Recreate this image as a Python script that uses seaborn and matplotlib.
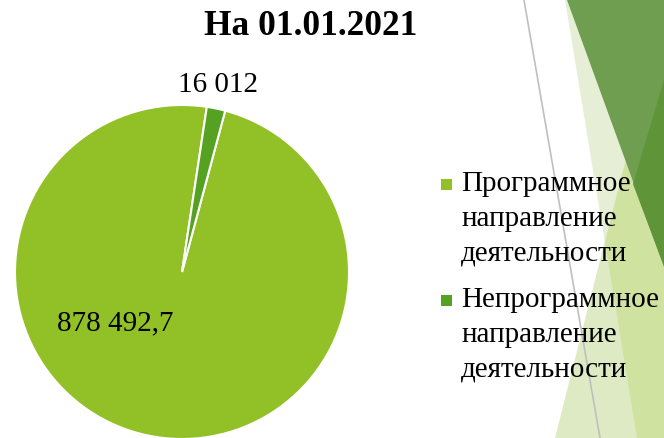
import matplotlib
matplotlib.use("Agg")
import matplotlib.pyplot as plt
import seaborn as sns
from matplotlib.patches import Polygon, Rectangle
from matplotlib.lines import Line2D
from matplotlib.legend_handler import HandlerPatch

# ---- data ----
categories = ["Программное\nнаправление\nдеятельности",
              "Непрограммное\nнаправление\nдеятельности"]
values = [878492.7, 16012]
value_labels = ["878 492,7", "16 012"]
title = "На 01.01.2021"
colors = ["#92C127", "#55A122"]

sns.set_theme(style="white")
plt.rcParams['font.family'] = ['Liberation Serif', 'DejaVu Serif']
plt.rcParams['text.color'] = 'black'

W, H = 664, 438
fig = plt.figure(figsize=(W / 100, H / 100), dpi=100)
fig.patch.set_facecolor('white')


def fp(pts):
    return [(x / W, 1 - y / H) for x, y in pts]


# ---- decorative slide background (theme triangles) ----
deco = [
    ([(565, 0), (666, 0), (666, 438), (637, 438)], '#E6EFD5'),
    ([(555, 438), (666, 0), (666, 438)], '#DDEAC3'),
    ([(605, 242), (666, 4), (666, 438), (637, 438)], '#D0E2A0'),
    ([(567, 0), (666, 0), (666, 272)], '#6F9E50'),
    ([(666, 73), (633, 184), (666, 272)], '#5F9538'),
]
for pts, c in deco:
    fig.add_artist(Polygon(fp(pts), closed=True, transform=fig.transFigure,
                           facecolor=c, edgecolor='none', zorder=-3))
fig.add_artist(Line2D([524 / W, 600 / W], [1, 1 - 438 / H], transform=fig.transFigure,
                      color='#BFBFBF', lw=1.2, zorder=-2))

# ---- pie ----
cx, cy, R = 182, 272, 167
ax = fig.add_axes([(cx - R) / W, 1 - (cy + R) / H, 2 * R / W, 2 * R / H])
ax.set_facecolor('none')
wedges, texts = ax.pie(values, colors=colors, startangle=75, counterclock=False,
                       labels=value_labels, labeldistance=0.5,
                       wedgeprops=dict(edgecolor='white', linewidth=1.5),
                       textprops=dict(fontsize=21, color='black'))
ax.set_xlim(-1, 1)
ax.set_ylim(-1, 1)
ax.set_aspect('equal')
label_pos = [(-0.40, -0.305), (0.216, 1.12)]
for t, p in zip(texts, label_pos):
    t.set_position(p)
    t.set_ha('center')
    t.set_va('center')

# ---- title ----
fig.text(311 / W, 1 - 35 / H, title, ha='center', va='baseline',
         fontsize=25.5, fontweight='bold', color='black')

# ---- legend ----
LINESP = 1.44
SHIFT_PT = 28.0


def square_handle(legend, orig_handle, xdescent, ydescent, width, height, fontsize):
    return Rectangle((-xdescent, SHIFT_PT), width, width)


proxies = [Rectangle((0, 0), 1, 1, facecolor=c, edgecolor='none') for c in colors]
leg = fig.legend(proxies, categories, loc='upper left',
                 bbox_to_anchor=(441 / W, 1 - 171 / H), frameon=False,
                 borderpad=0, borderaxespad=0, handlelength=0.38, handleheight=0.38,
                 handletextpad=0.31, labelspacing=0.71, fontsize=21,
                 labelcolor='black',
                 handler_map={Rectangle: HandlerPatch(patch_func=square_handle)})
for t in leg.get_texts():
    t.set_linespacing(LINESP)

fig.savefig("out.png", dpi=100)
